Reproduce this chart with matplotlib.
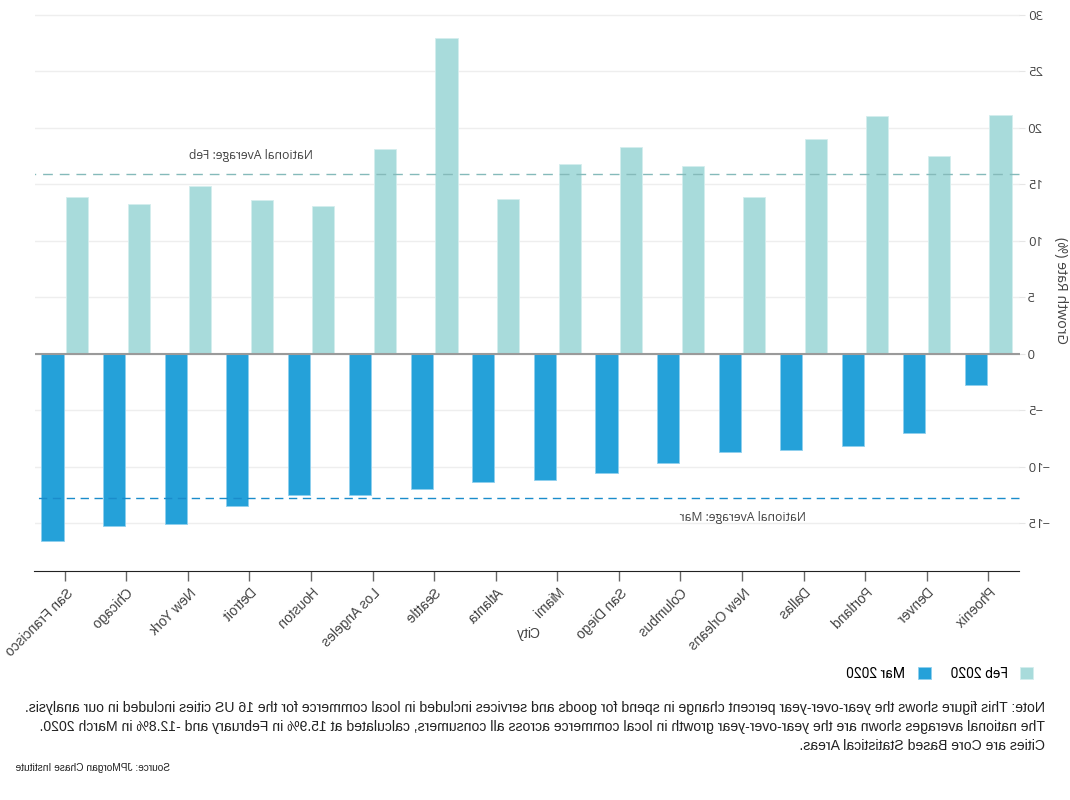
import numpy as np
import matplotlib
matplotlib.use('Agg')
import matplotlib.pyplot as plt

# values (left to right before the mirror)
cities = ['Phoenix', 'Denver', 'Portland', 'Dallas', 'New Orleans', 'Columbus',
          'San Diego', 'Miami\nCity', 'Atlanta', 'Seattle', 'Los Angeles',
          'Houston', 'Detroit', 'New York', 'Chicago', 'San Francisco']
feb = [21.1, 17.5, 21.0, 19.0, 13.9, 16.6, 18.3, 16.8,
       13.7, 27.9, 18.1, 13.1, 13.6, 14.8, 13.2, 13.9]
mar = [-2.8, -7.0, -8.2, -8.5, -8.7, -9.7, -10.6, -11.2,
       -11.4, -12.0, -12.5, -12.5, -13.5, -15.1, -15.3, -16.6]
feb_avg = 15.9
mar_avg = -12.8
yticks = [-15, -10, -5, 0, 5, 10, 15, 20, 25, 30]

note_lines = [
    'Note: This figure shows the year-over-year percent change in spend for goods and services included in local commerce for the 16 US cities included in our analysis.',
    'The national averages shown are the year-over-year growth in local commerce across all consumers, calculated at 15.9% in February and -12.8% in March 2020.',
    'Cities are Core Based Statistical Areas.',
]
source = 'Source: JPMorgan Chase Institute'

plt.rcParams['font.family'] = ['Liberation Sans', 'DejaVu Sans']

W, H = 1070, 800
fig = plt.figure(figsize=(W / 100, H / 100), dpi=100)
ax = fig.add_axes([50 / W, 1 - 571 / H, 985 / W, (571 - 13.5) / H])

x = np.arange(len(cities))
b1 = ax.bar(x - 0.2, feb, 0.36, color='#a8dbdb', edgecolor='#d4eeee', lw=0.6, zorder=2)
b2 = ax.bar(x + 0.2, mar, 0.36, color='#25a1d9', edgecolor='#8fd0ee', lw=0.6, zorder=2)

ax.axhline(0, color='#9a9a9a', lw=1.5, zorder=3)
ax.axhline(feb_avg, color='#85baba', lw=1, dashes=(7, 5), zorder=4)
ax.axhline(mar_avg, color='#1a8ccb', lw=1, dashes=(6, 4), zorder=4)
ax.text(12.0, 17.5, 'National Average: Feb', ha='center', va='center',
        fontsize=8.8, color='#444444', family='Open Sans')
ax.text(4.0, -14.5, 'National Average: Mar', ha='center', va='center',
        fontsize=8.8, color='#444444', family='Open Sans')

ax.set_xlim(-0.5, len(cities) - 0.5)
ax.set_ylim(-19.25, 30.1)
ax.set_yticks(yticks)
ax.set_yticklabels([str(v).replace('-', '\u2212') for v in yticks],
                   fontsize=9.4, color='#444444', family='Open Sans')
ax.yaxis.grid(True, color='#eeeeee', lw=1, zorder=0)
ax.set_axisbelow(True)
ax.tick_params(axis='y', length=4, color='#e6e6e6', pad=2)

# rotated tick labels; a wrapped second line stays horizontal, as in the source
ax.set_xticks(x)
ax.set_xticklabels([c.split('\n')[0] for c in cities], rotation=-45, ha='left',
                   va='top', rotation_mode='anchor', fontsize=10, color='#444444')
ax.tick_params(axis='x', length=7, width=1, color='#666666', pad=4)
for i, c in enumerate(cities):
    if '\n' in c:
        ax.annotate(c.split('\n')[1], xy=(i, 0), xycoords=('data', 'axes fraction'),
                    xytext=(21.5, -45.5), textcoords='offset points',
                    ha='center', va='center', fontsize=10, color='#444444')

for side in ['top', 'right', 'left']:
    ax.spines[side].set_visible(False)
ax.spines['bottom'].set_color('#222222')

fig.text(10 / W, 1 - 291 / H, 'Growth Rate (%)', rotation=90, ha='center',
         va='center', fontsize=10.3, color='#444444', family='Open Sans')

fig.legend(handles=[b1, b2], labels=['Feb 2020', 'Mar 2020'], loc='center left',
           bbox_to_anchor=(23 / W, 1 - 674 / H), ncol=2, frameon=False,
           handlelength=0.94, handleheight=0.94, columnspacing=1.3,
           handletextpad=1.0, prop={'family': 'Roboto', 'size': 10})

for i, line in enumerate(note_lines):
    fig.text(25 / W, 1 - (708 + 19 * i) / H, line, ha='left', va='center',
             fontsize=10.1, color='#222222')
fig.text(1055 / W, 1 - 768 / H, source, ha='right', va='center',
         fontsize=7.3, color='#222222')

# the reference is a mirrored picture: render, then flip left-right
fig.canvas.draw()
img = np.asarray(fig.canvas.buffer_rgba())[:, ::-1]
plt.imsave('out.png', img)
